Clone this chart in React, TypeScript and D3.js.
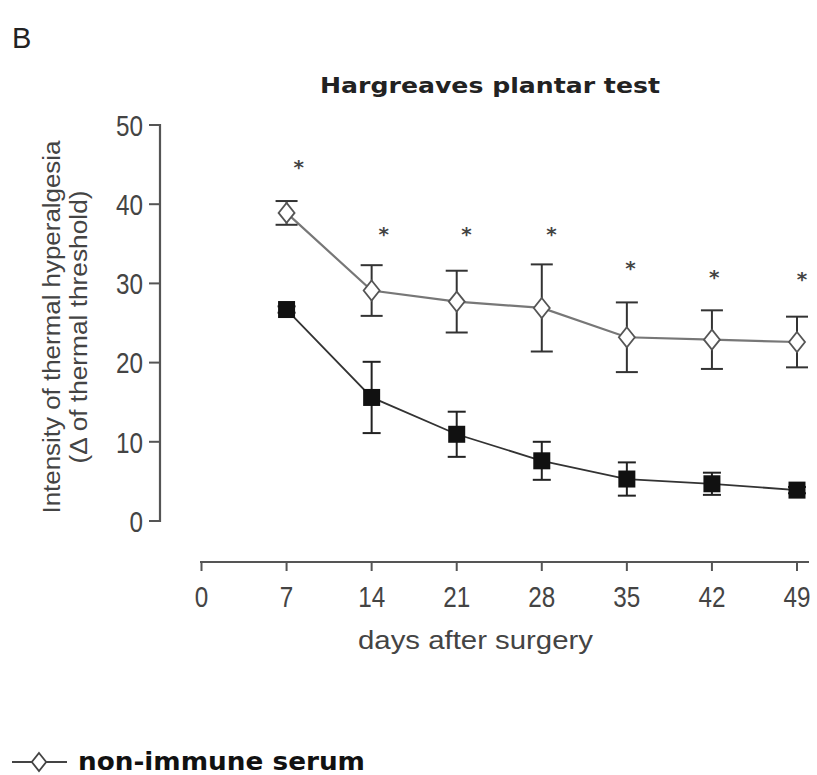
import React from "react";
import * as d3 from "d3";

const days = [7, 14, 21, 28, 35, 42, 49];
const xTicks = [0, 7, 14, 21, 28, 35, 42, 49];
const yTicks = [0, 10, 20, 30, 40, 50];

const nonImmuneMean = [38.9, 29.1, 27.7, 26.9, 23.2, 22.9, 22.6];
const nonImmuneSem = [1.5, 3.2, 3.9, 5.5, 4.4, 3.7, 3.2];

const immuneMean = [26.7, 15.6, 10.95, 7.6, 5.3, 4.7, 3.9];
const immuneSem = [0.4, 4.5, 2.85, 2.4, 2.1, 1.4, 0.4];

const asteriskDay = [8.0, 15.0, 21.8, 28.8, 35.3, 42.2, 49.4];
const asteriskValue = [45.2, 36.7, 36.7, 36.7, 32.4, 31.3, 31.1];

const title = "Hargreaves plantar test";
const xLabel = "days after surgery";
const yLabel1 = "Intensity of thermal hyperalgesia";
const yLabel2 = "(\u0394 of thermal threshold)";
const legendLabel = "non-immune serum";
const panelLabel = "B";

const W = 817;
const H = 775;

export default function App() {
  const x = d3.scaleLinear().domain([0, 49]).range([201.5, 797]);
  const y = d3.scaleLinear().domain([0, 50]).range([521, 125]);

  const line = d3
    .line<number>()
    .x((_, i) => x(days[i]))
    .y((d) => y(d));

  const axisColor = "#555";
  const textColor = "#444";
  const sansFont = "Liberation Sans, Arial, sans-serif";
  const boldFont = "DejaVu Sans, Verdana, sans-serif";

  const diamond = (cx: number, cy: number, r: number) =>
    `M${cx},${cy - r}L${cx + r * 0.8},${cy}L${cx},${cy + r}L${cx - r * 0.8},${cy}Z`;

  const digitW = 13.5;

  return (
    <svg
      width={W}
      height={H}
      style={{ position: "absolute", left: 0, top: 0, background: "#fff" }}
    >
      <rect x={0} y={0} width={W} height={H} fill="#fff" />
      {/* panel label */}
      <text x={12} y={48} fontFamily={sansFont} fontSize={29} fill="#222">
        {panelLabel}
      </text>
      {/* title */}
      <text
        x={320}
        y={93}
        fontFamily={boldFont}
        fontWeight="bold"
        fontSize={22}
        fill="#222"
        textLength={340}
        lengthAdjust="spacingAndGlyphs"
      >
        {title}
      </text>

      {/* y axis */}
      <line x1={160} x2={160} y1={y(50) - 1} y2={y(0) + 1} stroke={axisColor} strokeWidth={2.2} />
      {yTicks.map((t) => (
        <g key={"yt" + t}>
          <line x1={149} x2={160} y1={y(t)} y2={y(t)} stroke={axisColor} strokeWidth={2} />
          <text
            x={143 - String(t).length * digitW}
            y={y(t)}
            dy="0.36em"
            fontFamily={sansFont}
            fontSize={30}
            fill={textColor}
            textLength={String(t).length * digitW}
            lengthAdjust="spacingAndGlyphs"
          >
            {t}
          </text>
        </g>
      ))}
      {/* y label */}
      <text
        transform={`translate(52,327) rotate(-90)`}
        textAnchor="middle"
        dy="0.35em"
        fontFamily={sansFont}
        fontSize={23}
        fill={textColor}
        textLength={373}
        lengthAdjust="spacingAndGlyphs"
      >
        {yLabel1}
      </text>
      <text
        transform={`translate(79,327) rotate(-90)`}
        textAnchor="middle"
        dy="0.35em"
        fontFamily={sansFont}
        fontSize={23}
        fill={textColor}
        textLength={273}
        lengthAdjust="spacingAndGlyphs"
      >
        {yLabel2}
      </text>

      {/* x axis */}
      <line x1={200} x2={809} y1={562} y2={562} stroke={axisColor} strokeWidth={2.2} />
      {xTicks.map((t) => (
        <g key={"xt" + t}>
          <line x1={x(t)} x2={x(t)} y1={562} y2={571} stroke={axisColor} strokeWidth={2} />
          <text
            x={x(t) - (String(t).length * digitW) / 2}
            y={607}
            fontFamily={sansFont}
            fontSize={30}
            fill={textColor}
            textLength={String(t).length * digitW}
            lengthAdjust="spacingAndGlyphs"
          >
            {t}
          </text>
        </g>
      ))}
      <text
        x={358}
        y={649}
        fontFamily={sansFont}
        fontSize={25}
        fill={textColor}
        textLength={235}
        lengthAdjust="spacingAndGlyphs"
      >
        {xLabel}
      </text>

      {/* lines */}
      <path d={line(nonImmuneMean) || ""} fill="none" stroke="#777" strokeWidth={2.2} />
      <path d={line(immuneMean) || ""} fill="none" stroke="#333" strokeWidth={1.8} />

      {/* error bars non-immune */}
      {days.map((d, i) => {
        const cx = x(d);
        const top = y(nonImmuneMean[i] + nonImmuneSem[i]);
        const bot = y(nonImmuneMean[i] - nonImmuneSem[i]);
        return (
          <g key={"ebn" + i} stroke="#333" strokeWidth={2}>
            <line x1={cx} x2={cx} y1={top} y2={bot} />
            <line x1={cx - 11} x2={cx + 11} y1={top} y2={top} />
            <line x1={cx - 11} x2={cx + 11} y1={bot} y2={bot} />
          </g>
        );
      })}
      {/* error bars immune */}
      {days.map((d, i) => {
        const cx = x(d);
        const top = y(immuneMean[i] + immuneSem[i]);
        const bot = y(immuneMean[i] - immuneSem[i]);
        return (
          <g key={"ebi" + i} stroke="#222" strokeWidth={2}>
            <line x1={cx} x2={cx} y1={top} y2={bot} />
            <line x1={cx - 9} x2={cx + 9} y1={top} y2={top} />
            <line x1={cx - 9} x2={cx + 9} y1={bot} y2={bot} />
          </g>
        );
      })}

      {/* markers */}
      {days.map((d, i) => (
        <path
          key={"dm" + i}
          d={diamond(x(d), y(nonImmuneMean[i]), 10)}
          fill="#fff"
          stroke="#555"
          strokeWidth={1.8}
        />
      ))}
      {days.map((d, i) => (
        <rect
          key={"sq" + i}
          x={x(d) - 8.5}
          y={y(immuneMean[i]) - 8.5}
          width={17}
          height={17}
          fill="#111"
        />
      ))}

      {/* asterisks */}
      {asteriskDay.map((d, i) => (
        <text
          key={"as" + i}
          x={x(d)}
          y={y(asteriskValue[i])}
          dy="0.55em"
          textAnchor="middle"
          fontFamily={boldFont}
          fontWeight="bold"
          fontSize={20}
          fill="#444"
        >
          *
        </text>
      ))}

      {/* legend */}
      <line x1={12} x2={67} y1={762} y2={762} stroke="#444" strokeWidth={2} />
      <path d={diamond(39, 762, 9)} fill="#fff" stroke="#444" strokeWidth={1.8} />
      <text
        x={78}
        y={770}
        fontFamily={boldFont}
        fontWeight="bold"
        fontSize={25}
        fill="#111"
        textLength={287}
        lengthAdjust="spacingAndGlyphs"
      >
        {legendLabel}
      </text>
    </svg>
  );
}
